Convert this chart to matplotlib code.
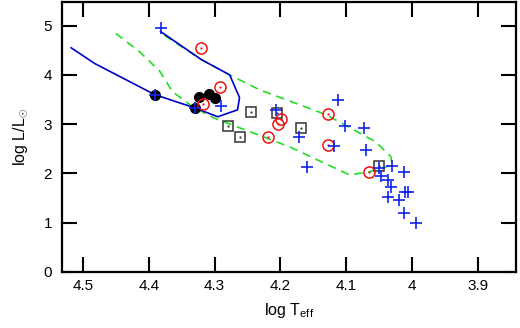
import numpy as np
import matplotlib
matplotlib.use("Agg")
import matplotlib.pyplot as plt

plt.rcParams['font.family'] = ['Liberation Sans', 'DejaVu Sans']
plt.rcParams['mathtext.fontset'] = 'custom'
plt.rcParams['mathtext.rm'] = 'Liberation Sans'
plt.rcParams['mathtext.it'] = 'Liberation Sans:italic'

## Evolutionary track (blue solid)
track_t = [4.518, 4.482, 4.391, 4.330, 4.295, 4.265, 4.262, 4.277, 4.320, 4.382]
track_l = [4.55, 4.23, 3.60, 3.33, 3.15, 3.29, 3.54, 4.00, 4.31, 4.88]

## Green dashed loop
loop_t = [4.450, 4.414, 4.383, 4.364, 4.333, 4.300, 4.186, 4.095, 4.065, 4.030,
          4.032, 4.055, 4.130, 4.232, 4.277, 4.320, 4.376]
loop_l = [4.84, 4.47, 4.07, 3.66, 3.35, 3.12, 2.54, 1.97, 2.03, 2.17,
          2.34, 2.64, 3.19, 3.70, 4.00, 4.31, 4.80]

## Black filled circles
bc_t = [4.391, 4.330, 4.323, 4.309, 4.300]
bc_l = [3.60, 3.33, 3.56, 3.62, 3.53]

## Red open circles
rc_t = [4.321, 4.291, 4.318, 4.219, 4.203, 4.199, 4.127, 4.127, 4.065]
rc_l = [4.55, 3.75, 3.41, 2.74, 3.01, 3.10, 3.20, 2.58, 2.03]

## Open squares
sq_t = [4.244, 4.280, 4.262, 4.205, 4.169, 4.050]
sq_l = [3.25, 2.97, 2.74, 3.23, 2.92, 2.14]

## Blue crosses
pl_t = [4.382, 4.391, 4.330, 4.290, 4.206, 4.172, 4.113, 4.102, 4.073, 4.118,
        4.069, 4.159, 4.050, 4.030, 4.012, 4.047, 4.036, 4.031, 4.010, 4.006,
        4.037, 4.020, 4.012, 3.994]
pl_l = [4.95, 3.60, 3.33, 3.36, 3.28, 2.73, 3.48, 2.97, 2.93, 2.55,
        2.48, 2.13, 2.11, 2.15, 2.03, 1.95, 1.86, 1.73, 1.63, 1.63,
        1.52, 1.46, 1.19, 1.00]

fig = plt.figure(figsize=(5.2, 3.28), dpi=100)
ax = fig.add_axes([0.119, 0.171, 0.873, 0.823])

ax.plot(loop_t, loop_l, color='#22dd22', lw=1.2, dashes=(5, 3.5), zorder=2)
ax.plot(track_t, track_l, color='#0000cc', lw=1.2, zorder=3)

ax.plot(bc_t, bc_l, 'o', color='black', ms=7, zorder=4)
ax.plot(sq_t, sq_l, 's', mfc='none', mec='#333333', mew=1.1, ms=7.5, zorder=5)
ax.plot(sq_t, sq_l, '.', color='#333333', ms=1.2, zorder=5)
ax.plot(rc_t, rc_l, 'o', mfc='none', mec='#ee1111', mew=1.1, ms=8, zorder=5)
ax.plot(rc_t, rc_l, '.', color='#ee1111', ms=1.2, zorder=5)
ax.plot(pl_t, pl_l, '+', color='#1122ee', mew=1.2, ms=8, zorder=6)

ax.set_xlim(4.532, 3.842)
ax.set_ylim(0, 5.48)
ax.set_xticks([4.5, 4.4, 4.3, 4.2, 4.1, 4.0, 3.9])
ax.set_xticklabels(['4.5', '4.4', '4.3', '4.2', '4.1', '4', '3.9'])
ax.set_yticks([0, 1, 2, 3, 4, 5])

ax.tick_params(direction='in', length=10.5, width=1.5, top=True, right=True,
               labelsize=11)
ax.tick_params(axis='x', pad=5)
ax.tick_params(axis='y', pad=7)
for s in ax.spines.values():
    s.set_linewidth(1.6)

ax.set_xlabel(r'log T$_{\rm eff}$', fontsize=11.5, labelpad=6)
ax.set_ylabel(r'log L/L$_{\odot}$', fontsize=11.5, labelpad=10)

fig.savefig('out.png', dpi=100)
